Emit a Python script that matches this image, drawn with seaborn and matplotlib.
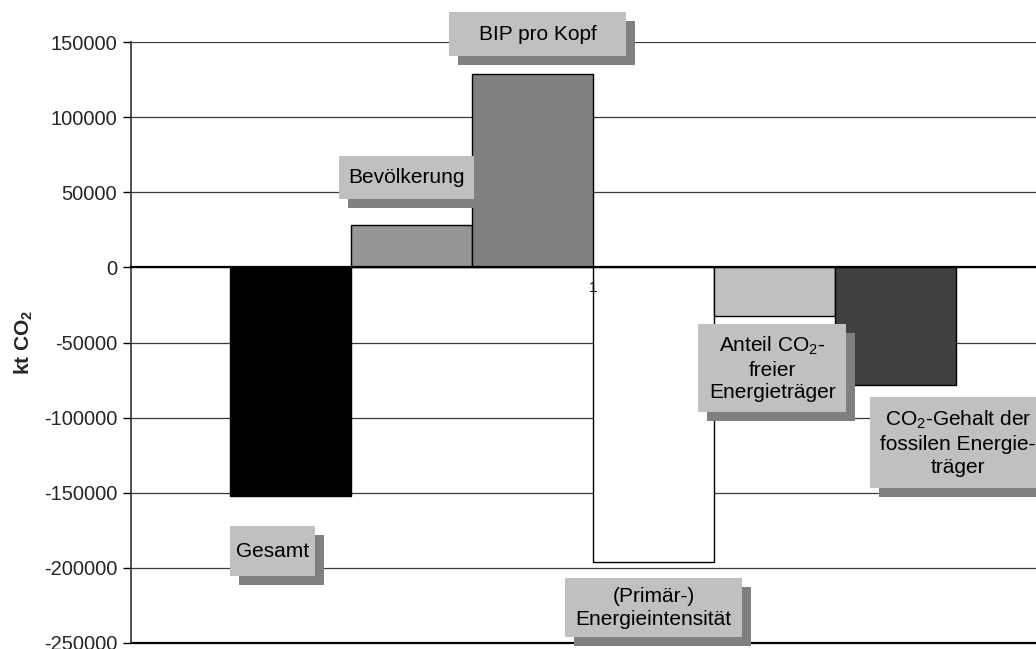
import matplotlib
matplotlib.use("Agg")
import matplotlib.pyplot as plt
import matplotlib.transforms as mtransforms
from matplotlib.patches import Rectangle
import seaborn as sns
import pandas as pd

# Decomposition of the change in CO2 emissions (kt CO2)
components = [
    "Gesamt",
    "Bevölkerung",
    "BIP pro Kopf",
    "(Primär-) Energieintensität",
    "Anteil CO2-freier Energieträger",
    "CO2-Gehalt der fossilen Energieträger",
]
values = [-152000, 28000, 128600, -196000, -32500, -78500]
category = ["1"] * len(components)
bar_colors = ["#000000", "#969696", "#808080", "#FFFFFF", "#C0C0C0", "#404040"]

# Text shown in the label boxes (with subscript 2 in CO2)
box_texts = [
    "Gesamt",
    "Bevölkerung",
    "BIP pro Kopf",
    "(Primär-)\nEnergieintensität",
    "Anteil CO$_2$-\nfreier\nEnergieträger",
    "CO$_2$-Gehalt der\nfossilen Energie-\nträger",
]
# Label box extents in data units: (x0, x1, y_top, y_bottom)
box_extents = [
    (-0.393, -0.301, -172400, -205700),
    (-0.275, -0.129, 73900, 45300),
    (-0.156, 0.036, 169700, 140400),
    (-0.030, 0.161, -207000, -246300),
    (0.114, 0.274, -37900, -96500),
    (0.300, 0.490, -86500, -147100),
]

sns.set_style("white")
plt.rcParams["font.family"] = ["Liberation Sans", "DejaVu Sans"]
plt.rcParams["mathtext.fontset"] = "custom"
plt.rcParams["mathtext.rm"] = "Liberation Sans"
plt.rcParams["mathtext.it"] = "Liberation Sans:italic"
plt.rcParams["mathtext.bf"] = "Liberation Sans:bold"

df = pd.DataFrame({"cat": category, "comp": components, "val": values})

fig = plt.figure(figsize=(10.36, 6.49), dpi=100)
ax = fig.add_axes([0.1264, 0.00925, 0.892, 0.926])

sns.barplot(
    data=df, x="cat", y="val", hue="comp", hue_order=components,
    palette=dict(zip(components, bar_colors)), saturation=1,
    width=0.786, dodge=True, edgecolor="black", linewidth=1.0,
    legend=False, ax=ax, zorder=3,
)
for patch in ax.patches:
    patch.set_zorder(3)

ax.set_xlim(-0.5, 0.5)
ax.set_ylim(-250000, 150000)
ax.set_yticks(range(-250000, 150001, 50000))
ax.set_yticklabels([str(v) for v in range(-250000, 150001, 50000)])
ax.tick_params(axis="y", direction="out", length=6, width=1, color="black",
               labelsize=14.5, pad=4, left=True)

# Category label sits just under the zero line, on top of the bars
ax.set_xticks([0])
ax.set_xticklabels([""])
ax.tick_params(axis="x", length=0)
ax.text(0, 0, category[0], transform=mtransforms.offset_copy(
            ax.transData, fig=fig, x=0, y=-10, units="points"),
        ha="center", va="top", fontsize=11, color="black", zorder=4)

ax.set_xlabel("")
ax.set_ylabel("kt CO$_\\mathbf{2}$", fontsize=15, fontweight="bold", labelpad=6)

ax.yaxis.grid(True, color="#3a3a3a", linewidth=0.9, zorder=0)
ax.set_axisbelow(True)

for side in ("top", "right"):
    ax.spines[side].set_visible(False)
ax.spines["left"].set_color("#333333")
ax.spines["left"].set_linewidth(1.2)
ax.spines["bottom"].set_position(("data", 0))
ax.spines["bottom"].set_color("black")
ax.spines["bottom"].set_linewidth(1.6)
ax.spines["bottom"].set_zorder(4)
ax.axhline(-250000, color="black", linewidth=1.6, zorder=2, clip_on=False)

# Label boxes with drop shadow
shadow_tr = mtransforms.offset_copy(ax.transData, fig=fig, x=6.5, y=-6.5, units="points")
for text, (x0, x1, yt, yb) in zip(box_texts, box_extents):
    ax.add_patch(Rectangle((x0, yb), x1 - x0, yt - yb, transform=shadow_tr,
                           facecolor="#808080", edgecolor="none", zorder=5,
                           clip_on=False))
    ax.add_patch(Rectangle((x0, yb), x1 - x0, yt - yb, facecolor="#C0C0C0",
                           edgecolor="none", zorder=6, clip_on=False))
    ax.text((x0 + x1) / 2, (yt + yb) / 2, text, ha="center", va="center",
            fontsize=15, color="black", zorder=7, linespacing=1.25,
            multialignment="center")

fig.savefig("out.png", dpi=100)
